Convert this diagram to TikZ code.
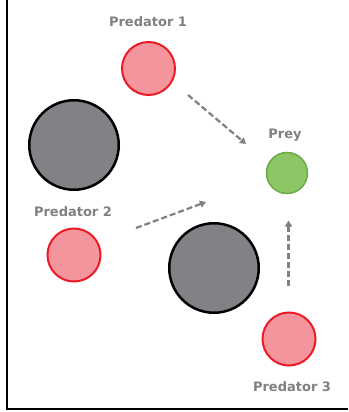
\documentclass[tikz,border=0pt]{standalone}
\usepackage{fontspec}
\setmainfont{DejaVu Sans}
\usetikzlibrary{arrows.meta}
\definecolor{predfill}{RGB}{244,148,156}
\definecolor{predline}{RGB}{237,28,36}
\definecolor{preyfill}{RGB}{140,198,101}
\definecolor{preyline}{RGB}{106,170,70}
\definecolor{obstfill}{RGB}{128,130,133}
\definecolor{labelgray}{RGB}{128,128,128}
\tikzset{
  predator/.style={circle, draw=predline, fill=predfill, line width=2pt, minimum size=53pt, inner sep=0pt},
  prey/.style={circle, draw=preyline, fill=preyfill, line width=1.5pt, minimum size=41pt, inner sep=0pt},
  obstacle/.style={circle, draw=black, fill=obstfill, line width=2.5pt, minimum size=89.5pt, inner sep=0pt},
  agentlabel/.style={text=labelgray, font=\bfseries\fontsize{13}{15}\selectfont},
  chase/.style={-{Triangle[length=6pt,width=7pt]}, dash pattern=on 6pt off 3pt, line width=2.2pt, labelgray}
}
\begin{document}
\begin{tikzpicture}[x=1pt, y=-1pt]
\useasboundingbox (0,0) rectangle (348,412);
% Draw frame
\draw[line width=2.5pt] (7,0) -- (7,409) -- (348,409);
% Draw obstacles
\node[obstacle] (obst1) at (74,145) {};
\node[obstacle] (obst2) at (214,268) {};
% Draw predators and prey
\node[predator] (pred1) at (148.5,68.5) {};
\node[predator] (pred2) at (74,255) {};
\node[predator] (pred3) at (289,339) {};
\node[prey] (prey) at (287,173) {};
% Labels
\node[agentlabel] (pred1lab) at (148,22) {Predator 1};
\node[agentlabel] (pred2lab) at (73,212) {Predator 2};
\node[agentlabel] (pred3lab) at (292,387) {Predator 3};
\node[agentlabel] (preylab) at (285,135) {Prey};
% Draw pursuit arrows
\coordinate (a1) at (188,95);
\coordinate (b1) at (246,144);
\coordinate (a2) at (136,228);
\coordinate (b2) at (206,202);
\coordinate (a3) at (288.5,286);
\coordinate (b3) at (288.5,220.5);
\draw[chase] (a1) -- (b1);
\draw[chase] (a2) -- (b2);
\draw[chase] (a3) -- (b3);
\end{tikzpicture}
\end{document}
